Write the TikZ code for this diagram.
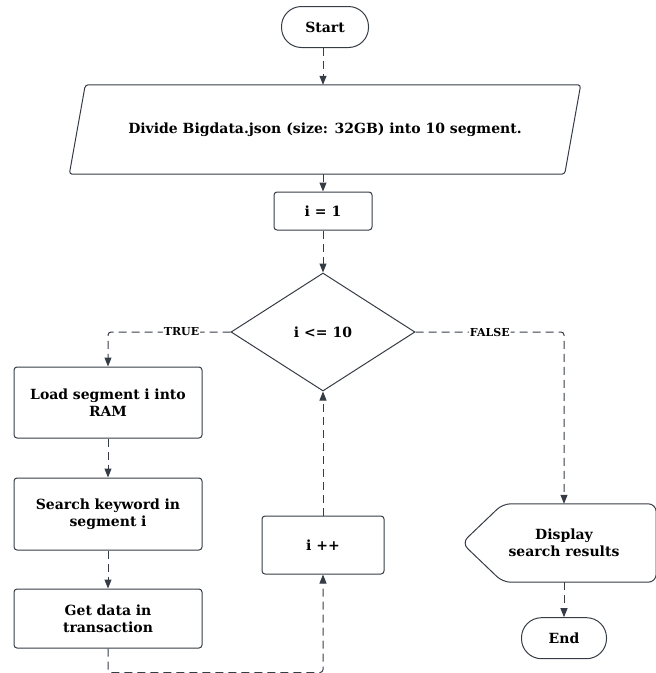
\documentclass[tikz,border=0pt]{standalone}
\usepackage{fontspec}
\setmainfont{DejaVu Serif}
\usepackage{xcolor}
\usetikzlibrary{arrows.meta,positioning,shapes.geometric,calc}
\definecolor{flowline}{HTML}{363C46}
\tikzset{
    flowbox/.style={
        draw=flowline, line width=1pt, rounded corners=3pt, align=center,
        font=\fontsize{14}{17}\selectfont\bfseries, inner sep=4pt},
    flowterm/.style={flowbox, rounded corners=20pt, minimum width=87pt, minimum height=41pt},
    flowproc/.style={flowbox, minimum width=188pt, text width=178pt},
    flowio/.style={align=center, font=\fontsize{14}{17}\selectfont\bfseries,
        minimum width=495pt, minimum height=89pt},
    flowcond/.style={flowbox, diamond, rounded corners=0pt, minimum width=184pt, minimum height=118pt},
    flowshow/.style={align=center, font=\fontsize{14}{17}\selectfont\bfseries,
        minimum width=184pt, minimum height=78pt},
    flowoutline/.style={draw=flowline, line width=1pt},
    flowedge/.style={draw=flowline, line width=1pt, dash pattern=on 8pt off 5pt,
        -{Triangle[length=9pt,width=7pt]}},
    flowlabel/.style={font=\fontsize{11}{13}\selectfont\bfseries, fill=white, inner sep=1pt},
}

\begin{document}
\begin{tikzpicture}[x=1pt, y=1pt]

    \useasboundingbox (0,0) rectangle (656,-673);

    % --- Main column -----------------------------------------------------------------
    \node[flowterm] (start) at (325,-27) {Start};
    \node[flowio] (divide) at (325,-129.5) {%
        Divide Bigdata.json (size: 32GB) into 10 segment.};
    \draw[flowoutline, rounded corners=3pt]
        ([xshift=8pt]divide.north west) -- ([xshift=8pt]divide.north east)
        -- ([xshift=-8pt]divide.south east) -- ([xshift=-8pt]divide.south west) -- cycle;
    \node[flowbox, minimum width=98pt, minimum height=38pt] (init) at (323,-211) {i = 1};
    \node[flowcond, below=42pt of init] (cond) {i <= 10};

    % --- Loop body ---------------------------------------------------------------------
    \node[flowproc, minimum height=71pt] (load) at (108,-402.5) {Load segment i into\\RAM};
    \node[flowproc, minimum height=72pt, below=39pt of load] (search) {Search keyword in\\segment i};
    \node[flowproc, minimum height=59pt, below=38pt of search] (getdata) {Get data in\\transaction};
    \node[flowbox, minimum width=122pt, minimum height=58pt, below=124pt of cond] (incr) {i ++};
    \coordinate (loopback) at ($(getdata.south)+(0,-24)$);

    % --- Exit --------------------------------------------------------------------------
    \node[flowshow] (disp) at (564,-543) {Display\\search results};
    \draw[flowoutline, rounded corners=8pt]
        ([xshift=31pt]disp.north west) -- (disp.north east) -- (disp.south east)
        -- ([xshift=31pt]disp.south west) -- ([xshift=-10pt]disp.west) -- cycle;
    \node[flowterm, minimum width=85pt, below=35pt of disp] (stop) {End};

    % --- Flow arrows -------------------------------------------------------------------
    \draw[flowedge] (start.south -| init.north) -- (divide.north -| init.north);
    \draw[flowedge] (divide.south -| init.north) -- (init);
    \draw[flowedge] (init) -- (cond);
    \draw[flowedge, rounded corners=3pt] (cond.west) -| node[flowlabel, pos=0.2] {TRUE} (load.north);
    \draw[flowedge, rounded corners=3pt] (cond.east) -| node[flowlabel, pos=0.25] {FALSE} (disp.north);
    \draw[flowedge] (load) -- (search);
    \draw[flowedge] (search) -- (getdata);
    \draw[flowedge, rounded corners=3pt] (getdata.south) -- (loopback) -| (incr.south);
    \draw[flowedge] (incr) -- (cond);
    \draw[flowedge] (disp) -- (stop);

\end{tikzpicture}
\end{document}
